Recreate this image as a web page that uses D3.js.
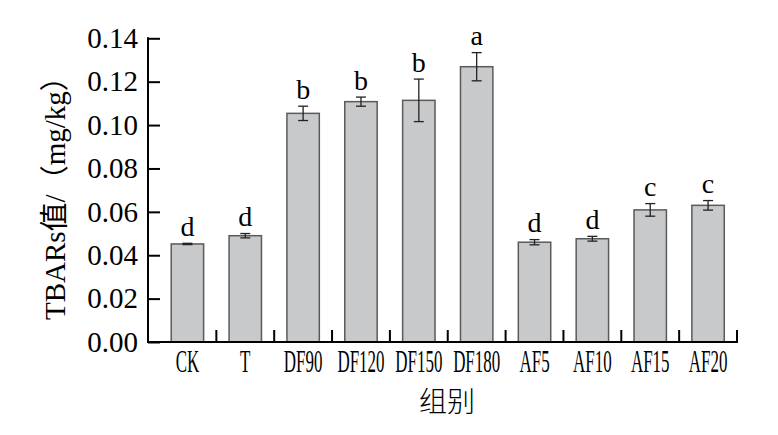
<!DOCTYPE html>
<html>
<head>
<meta charset="utf-8">
<script src="https://cdn.jsdelivr.net/npm/d3@7"></script>
<style>
  html, body { margin: 0; padding: 0; background: #fff; }
  svg { display: block; }
</style>
</head>
<body>
<script>
const categories = ["CK", "T", "DF90", "DF120", "DF150", "DF180", "AF5", "AF10", "AF15", "AF20"];
const values = [0.0452, 0.0490, 0.1054, 0.1108, 0.1114, 0.1269, 0.0460, 0.0476, 0.0609, 0.0630];
const errors = [0.0003, 0.0010, 0.0033, 0.0021, 0.0098, 0.0065, 0.0012, 0.0011, 0.0029, 0.0022];
const letters = ["d", "d", "b", "b", "b", "a", "d", "d", "c", "c"];
const yTicks = [0, 0.02, 0.04, 0.06, 0.08, 0.10, 0.12, 0.14];

const W = 778, H = 435;
const svg = d3.select("body").append("svg").attr("width", W).attr("height", H);

const axisLeftX = 148, axisBottomY = 342, axisTopY = 38.3, axisRightX = 737;
const serif = "'Liberation Serif', 'Times New Roman', serif";

const x = d3.scaleBand().domain(categories).range([158.5, axisRightX]).padding(0);
const y = d3.scaleLinear().domain([0, 0.14]).range([axisBottomY, axisTopY]);
const barW = x.bandwidth() * 0.56;

// bars
svg.append("g").selectAll("rect").data(categories).join("rect")
  .attr("x", (d) => x(d) + x.bandwidth() / 2 - barW / 2)
  .attr("y", (d, i) => y(values[i]))
  .attr("width", barW)
  .attr("height", (d, i) => y(0) - y(values[i]))
  .attr("fill", "#c8c9cb")
  .attr("stroke", "#5a5a5a")
  .attr("stroke-width", 1.5);

// error bars
const eg = svg.append("g").attr("stroke", "#222").attr("stroke-width", 1.3).attr("fill", "none");
categories.forEach((c, i) => {
  const cx = x(c) + x.bandwidth() / 2;
  const y1 = y(values[i] + errors[i]), y2 = y(values[i] - errors[i]);
  eg.append("line").attr("x1", cx).attr("x2", cx).attr("y1", y1).attr("y2", y2);
  eg.append("line").attr("x1", cx - 5).attr("x2", cx + 5).attr("y1", y1).attr("y2", y1);
  eg.append("line").attr("x1", cx - 5).attr("x2", cx + 5).attr("y1", y2).attr("y2", y2);
});

// significance letters
svg.append("g").selectAll("text").data(categories).join("text")
  .attr("x", (d) => x(d) + x.bandwidth() / 2)
  .attr("y", (d, i) => y(values[i] + errors[i]) - 7.5)
  .attr("text-anchor", "middle")
  .attr("font-family", serif)
  .attr("font-size", 28)
  .attr("fill", "#000")
  .text((d, i) => letters[i]);

// y axis
const yAxis = svg.append("g").attr("transform", `translate(${axisLeftX},0)`)
  .call(d3.axisLeft(y).tickValues(yTicks).tickFormat(d3.format(".2f")).tickSize(-12).tickPadding(10));
yAxis.select(".domain").remove();
yAxis.selectAll(".tick line").attr("stroke", "#000").attr("stroke-width", 2);
yAxis.selectAll(".tick text").attr("font-family", serif).attr("font-size", 29).attr("fill", "#000");

// x axis labels
const xAxis = svg.append("g").attr("transform", `translate(0,${axisBottomY})`)
  .call(d3.axisBottom(x).tickSize(0).tickPadding(0));
xAxis.select(".domain").remove();
xAxis.selectAll(".tick text")
  .attr("font-family", serif).attr("font-size", 32).attr("fill", "#000")
  .attr("dy", null).attr("y", 30)
  .attr("transform", "scale(0.53,1)");

// x separator ticks
svg.append("g").selectAll("line").data(categories).join("line")
  .attr("x1", (d) => x(d) + x.bandwidth())
  .attr("x2", (d) => x(d) + x.bandwidth())
  .attr("y1", axisBottomY)
  .attr("y2", axisBottomY - 12)
  .attr("stroke", "#000").attr("stroke-width", 2);

// axis lines
svg.append("line").attr("x1", axisLeftX).attr("x2", axisLeftX).attr("y1", axisTopY - 1).attr("y2", axisBottomY + 1)
  .attr("stroke", "#000").attr("stroke-width", 2);
svg.append("line").attr("x1", axisLeftX - 1).attr("x2", axisRightX + 1).attr("y1", axisBottomY).attr("y2", axisBottomY)
  .attr("stroke", "#000").attr("stroke-width", 2);

// axis titles
svg.append("text")
  .attr("transform", `translate(65,${(axisTopY + axisBottomY) / 2 + 1}) rotate(-90)`)
  .attr("text-anchor", "middle")
  .attr("font-family", "'Liberation Serif', 'Noto Sans CJK SC', serif")
  .attr("font-size", 29)
  .attr("fill", "#000")
  .text("TBARs值/（mg/kg）");

svg.append("text")
  .attr("x", 447).attr("y", 412)
  .attr("text-anchor", "middle")
  .attr("font-family", "'Noto Sans CJK SC', sans-serif")
  .attr("font-size", 28)
  .attr("font-weight", 300)
  .attr("fill", "#000")
  .text("组别");
</script>
</body>
</html>
